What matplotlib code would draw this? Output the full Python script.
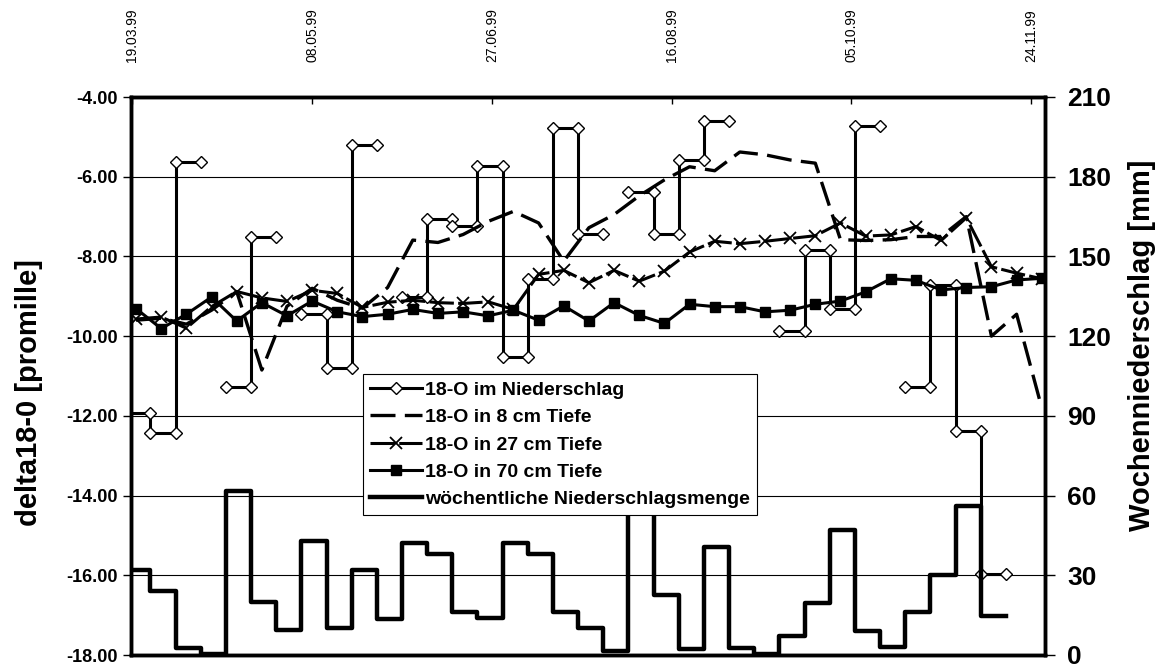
import numpy as np
import pandas as pd
import matplotlib
matplotlib.use("Agg")
import matplotlib.pyplot as plt
import matplotlib.dates as mdates

plt.rcParams['font.family'] = ['Liberation Sans', 'DejaVu Sans']

# Termine: Bodenwasserproben (woechentlich) und Niederschlagswochen
soil_dates = pd.date_range("1999-03-20", periods=37, freq="7D")
week_start = pd.date_range("1999-03-17", periods=35, freq="7D")
tick_dates = pd.to_datetime(["1999-03-19", "1999-05-08", "1999-06-27",
                             "1999-08-16", "1999-10-05", "1999-11-24"])

# 18-O im Niederschlag je Woche (nan = keine Probe)
o18_rain = [-11.93, -12.42, -5.64, np.nan, -11.27, -7.52, np.nan, -9.44, -10.79, -5.20,
            np.nan, -9.02, -7.06, -7.23, -5.73, -10.52, -8.56, -4.78, -7.43, np.nan,
            -6.39, -7.43, -5.58, -4.59, np.nan, np.nan, -9.87, -7.84, -9.33, -4.72,
            np.nan, -11.28, -8.72, -12.37, -15.97]

# woechentliche Niederschlagsmenge [mm]
rain_mm = [32.1, 24.0, 2.5, 0.4, 61.9, 20.0, 9.4, 42.9, 10.0, 32.1,
           13.5, 42.1, 38.1, 16.2, 14.1, 42.1, 38.1, 16.2, 10.0, 1.6,
           70.0, 22.7, 2.1, 40.6, 2.5, 0.4, 7.2, 19.4, 46.9, 9.1,
           3.1, 16.2, 30.0, 55.9, 14.7]

# 18-O im Bodenwasser
o18_8cm = [-9.60, -9.55, -9.70, -9.35, -8.88, -10.85, -9.25, -8.80, -9.10, -9.30,
           -8.78, -7.59, -7.65, -7.45, -7.12, -6.87, -7.16, -8.12, -7.28, -6.95,
           -6.48, -6.08, -5.75, -5.85, -5.38, -5.45, -5.58, -5.66, -7.58, -7.60,
           -7.58, -7.50, -7.50, -7.00, -10.00, -9.45, -11.80]
o18_27cm = [-9.57, -9.52, -9.80, -9.26, -8.88, -9.04, -9.13, -8.85, -8.93, -9.28,
            -9.15, -9.10, -9.16, -9.18, -9.14, -9.33, -8.45, -8.35, -8.66, -8.35,
            -8.62, -8.37, -7.89, -7.62, -7.68, -7.62, -7.55, -7.48, -7.16, -7.49,
            -7.46, -7.25, -7.60, -7.03, -8.26, -8.42, -8.56]
o18_70cm = [-9.31, -9.81, -9.45, -9.02, -9.62, -9.16, -9.49, -9.12, -9.39, -9.51,
            -9.45, -9.33, -9.43, -9.39, -9.49, -9.35, -9.60, -9.24, -9.62, -9.16,
            -9.48, -9.68, -9.20, -9.26, -9.26, -9.39, -9.35, -9.20, -9.12, -8.89,
            -8.56, -8.60, -8.84, -8.78, -8.76, -8.59, -8.55]

legend_labels = ["18-O im Niederschlag", "18-O in 8 cm Tiefe", "18-O in 27 cm Tiefe",
                 "18-O in 70 cm Tiefe", "wöchentliche Niederschlagsmenge"]


def steps(starts, vals):
    # jede Woche als waagerechtes Stueck von Wochenanfang bis -ende
    xs, ys = [], []
    for s, v in zip(starts, vals):
        xs += [s, s + pd.Timedelta(days=7)]
        ys += [v, v]
    return mdates.date2num(xs), np.array(ys, dtype=float)


fig = plt.figure(figsize=(11.6, 6.68), dpi=100)
ax = fig.add_axes([131 / 1160, 1 - 655 / 668, (1045 - 131) / 1160, (655 - 97) / 668])
ax2 = ax.twinx()

x_soil = mdates.date2num(soil_dates)
x_rain, y_rain = steps(week_start, o18_rain)
x_mm, y_mm = steps(week_start, rain_mm)

h1, = ax.plot(x_rain, y_rain, color='black', lw=2.2, marker='D', ms=6.5,
              mfc='white', mec='black', mew=1.0)
h2, = ax.plot(x_soil, o18_8cm, color='black', lw=2.4, dashes=(7.5, 2.8))
h3, = ax.plot(x_soil, o18_27cm, color='black', lw=2.2, dashes=(8, 1.4),
              marker='x', ms=9, mew=1.3)
h4, = ax.plot(x_soil, o18_70cm, color='black', lw=2.2, marker='s', ms=6.5)
h5, = ax2.plot(x_mm, y_mm, color='black', lw=3.2)

t0 = mdates.date2num(pd.Timestamp("1999-03-19"))
ax.set_xlim(t0 - 0.4, t0 + 253.9)
ax.set_ylim(-18, -4)
ax.set_yticks(np.arange(-18, -3, 2))
ax.set_yticklabels([f"{v:.2f}" for v in np.arange(-18, -3, 2)])
ax2.set_ylim(0, 210)
ax2.set_yticks(np.arange(0, 211, 30))

ax.grid(axis='y', color='black', lw=0.8)
ax.set_axisbelow(True)

ax.xaxis.tick_top()
ax.set_xticks(mdates.date2num(tick_dates))
ax.set_xticklabels([d.strftime("%d.%m.%y") for d in tick_dates], rotation=90,
                   fontsize=10)
ax.tick_params(axis='x', direction='in', length=5, width=1, pad=25)
ax.tick_params(axis='y', direction='out', length=6, width=1, labelsize=13)
ax2.tick_params(axis='y', direction='out', length=7, width=1, labelsize=19, pad=9)
for lab in ax.get_yticklabels():
    lab.set_fontweight('bold')
for lab in ax2.get_yticklabels():
    lab.set_fontweight('bold')

for a in (ax, ax2):
    for sp in a.spines.values():
        sp.set_linewidth(2.5)

ax.set_ylabel("delta18-0 [promille]", fontsize=21, fontweight='bold')
ax.yaxis.set_label_coords(-0.0963, 0.47)
ax2.set_ylabel("Wochenniederschlag [mm]", fontsize=21, fontweight='bold')
ax2.yaxis.set_label_coords(1.0908, 0.555)

leg = ax2.legend([h1, h2, h3, h4, h5], legend_labels, loc='lower left',
                 bbox_to_anchor=(363 / 1160, 1 - 515 / 668), bbox_transform=fig.transFigure,
                 prop={'weight': 'bold', 'size': 14}, frameon=True, fancybox=False,
                 framealpha=1, edgecolor='black', borderpad=0.35, labelspacing=0.5,
                 handlelength=2.7, handletextpad=0.15, borderaxespad=0)
leg.get_frame().set_linewidth(0.8)

fig.savefig("out.png", dpi=100)
